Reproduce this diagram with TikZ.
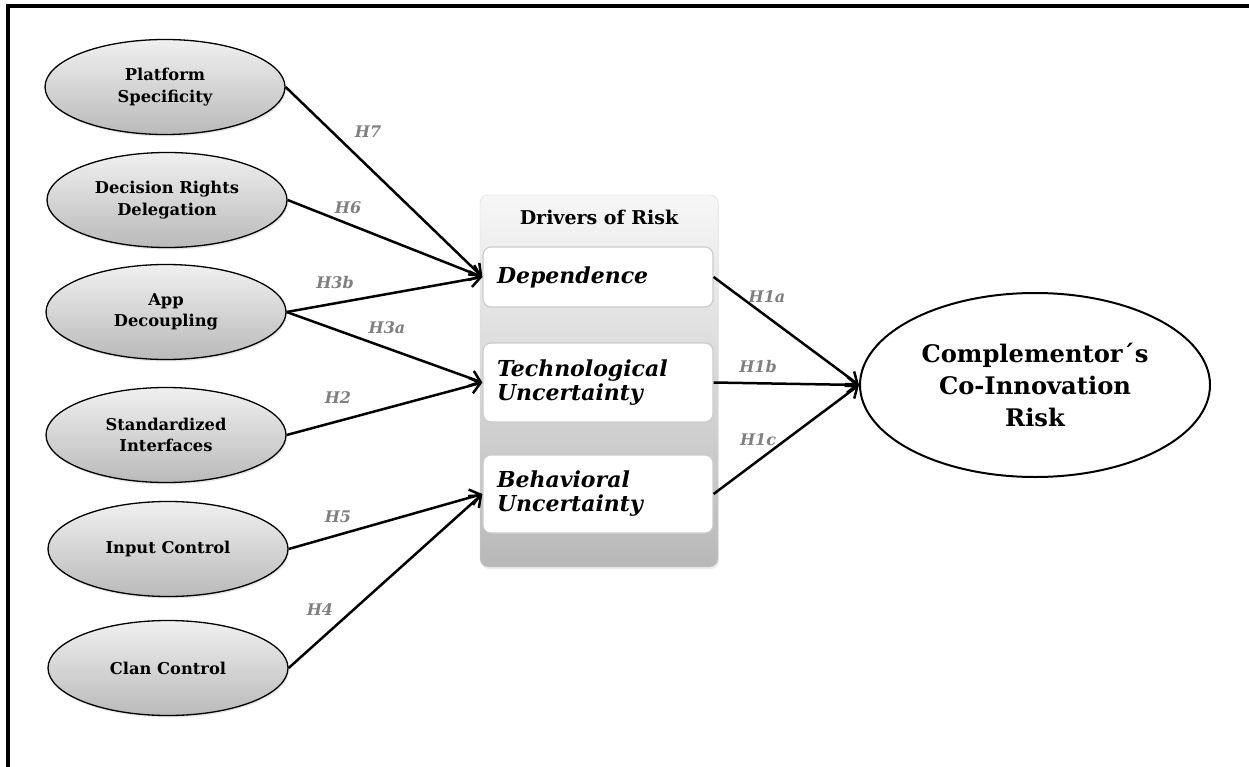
\documentclass[tikz,border=0pt]{standalone}
\usepackage{fontspec}
\setmainfont{DejaVu Serif}
\usetikzlibrary{shapes.geometric,arrows.meta,shadows}
\definecolor{ovtop}{RGB}{240,240,240}
\definecolor{ovbot}{RGB}{186,186,186}
\definecolor{grtop}{RGB}{247,247,247}
\definecolor{grbot}{RGB}{184,184,184}
\definecolor{hgray}{RGB}{128,128,128}
\tikzset{
    cause/.style={ellipse, draw, line width=1.3pt, minimum width=240pt, minimum height=95pt,
      inner sep=0pt, top color=ovtop, bottom color=ovbot, align=center,
      drop shadow={opacity=0.2, shadow xshift=1pt, shadow yshift=-2pt},
      font=\bfseries\fontsize{16.3}{21.5}\selectfont},
    group/.style={rectangle, rounded corners=8pt, draw=gray!30, minimum width=238pt, minimum height=372pt,
      top color=grtop, bottom color=grbot,
      drop shadow={opacity=0.15, shadow xshift=1pt, shadow yshift=-2pt}},
    title/.style={font=\bfseries\fontsize{19}{22}\selectfont},
    driver/.style={rectangle, rounded corners=8pt, draw=gray!40, line width=1.2pt, fill=white,
      minimum width=230pt, inner xsep=14pt, text width=202pt, align=left,
      font=\bfseries\itshape\fontsize{22}{24}\selectfont},
    outcome/.style={ellipse, draw, line width=2pt, fill=white, minimum width=350pt, minimum height=184pt,
      inner sep=0pt, align=center, font=\bfseries\fontsize{24.2}{32}\selectfont},
    hyp/.style={text=hgray, font=\bfseries\itshape\fontsize{16}{16}\selectfont},
    arr/.style={line width=2.5pt, -{Straight Barb[length=10pt,width=16pt]}},
  }
\begin{document}
\begin{tikzpicture}[x=1pt,y=-1pt]
	\useasboundingbox (0,0) rectangle (1249,767);
	%CADRE
	\draw[line width=4pt] (8,767) -- (8,6) -- (1249,6);
	%DRIVERS
	\node[group] (Box) at (599,381) {};
	\node[title] (Title) at (599,217) {Drivers of Risk};
	\node[driver, minimum height=60pt] (Dep) at (598,277) {Dependence};
	\node[driver, minimum height=79pt] (Tec) at (598,382.5) {Technological\\Uncertainty};
	\node[driver, minimum height=78pt] (Beh) at (598,494) {Behavioral\\Uncertainty};
	%CAUSES
	\node[cause] (PS) at (165,87) {Platform\\Specificity};
	\node[cause] (DR) at (167,200) {Decision Rights\\Delegation};
	\node[cause] (AD) at (166,312) {App\\Decoupling};
	\node[cause] (SI) at (166,435) {Standardized\\Interfaces};
	\node[cause] (IC) at (168,549) {Input Control};
	\node[cause] (CC) at (168,668) {Clan Control};
	%RISQUE
	\node[outcome] (Risk) at (1035,385) {Complementor´s\\Co-Innovation\\Risk};
	%FLECHES
	\draw[arr] (PS.east) -- (Dep.west);
	\draw[arr] (DR.east) -- (Dep.west);
	\draw[arr] (AD.east) -- (Dep.west);
	\draw[arr] (AD.east) -- (Tec.west);
	\draw[arr] (SI.east) -- (Tec.west);
	\draw[arr] (IC.east) -- (Beh.west);
	\draw[arr] (CC.east) -- (Beh.west);
	\draw[arr] (Dep.east) -- (Risk.west);
	\draw[arr] (Tec.east) -- (Risk.west);
	\draw[arr] (Beh.east) -- (Risk.west);
	%HYPOTHESES
	\node[hyp] (h7) at (368,132) {H7};
	\node[hyp] (h6) at (348,208) {H6};
	\node[hyp] (h3b) at (335,283) {H3b};
	\node[hyp] (h3a) at (387,328) {H3a};
	\node[hyp] (h2) at (338,398) {H2};
	\node[hyp] (h5) at (338,517) {H5};
	\node[hyp] (h4) at (320,610) {H4};
	\node[hyp] (h1a) at (767,297) {H1a};
	\node[hyp] (h1b) at (758,367) {H1b};
	\node[hyp] (h1c) at (758,440) {H1c};
\end{tikzpicture}
\end{document}
